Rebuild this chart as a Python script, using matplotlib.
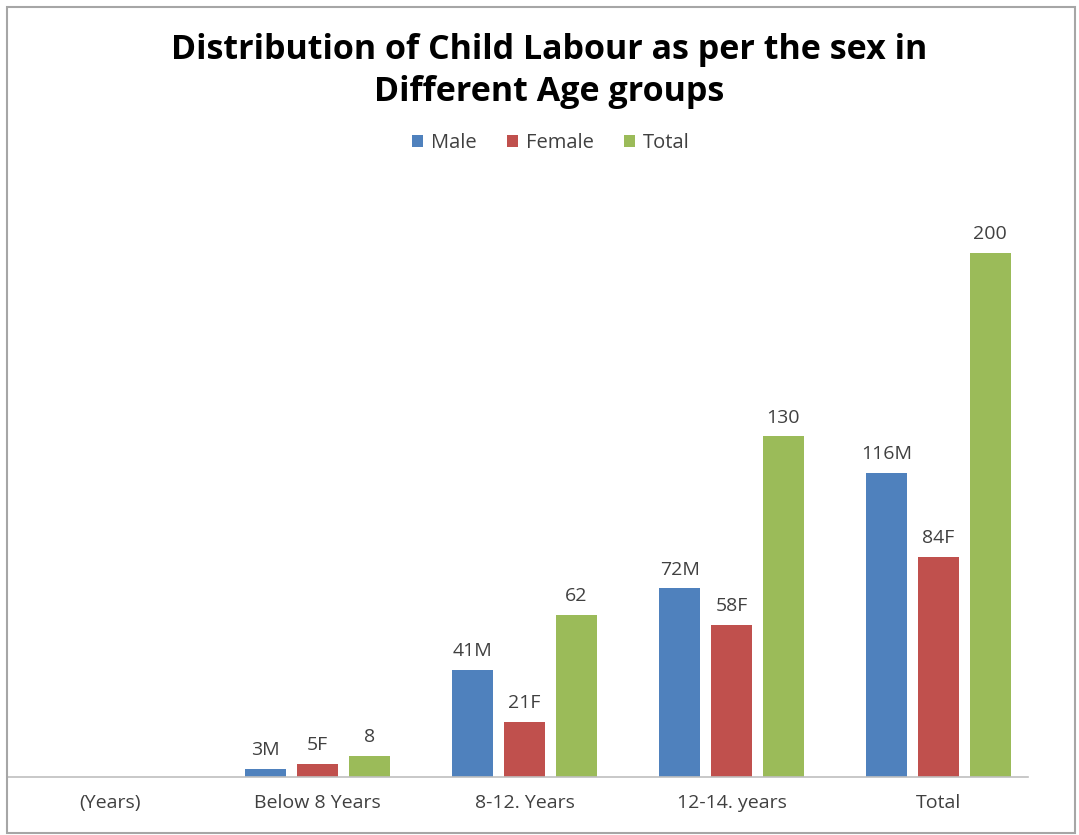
import numpy as np
import matplotlib.pyplot as plt
from matplotlib.patches import Rectangle

# Age groups and counts
categories = ['(Years)', 'Below 8 Years', '8-12. Years', '12-14. years', 'Total']
male = [0, 3, 41, 72, 116]
female = [0, 5, 21, 58, 84]
total = [0, 8, 62, 130, 200]

male_labels = ['', '3M', '41M', '72M', '116M']
female_labels = ['', '5F', '21F', '58F', '84F']
total_labels = ['', '8', '62', '130', '200']

plt.rcParams['font.family'] = ['Open Sans', 'DejaVu Sans']

fig = plt.figure(figsize=(10.79, 8.35), dpi=100)
ax = fig.add_axes([7 / 1079, 58 / 835, 1035 / 1079, 576.4 / 835])

x = np.arange(len(categories))
width = 0.2
step = 0.25

series = [
    (male, male_labels, '#4F81BD', 'Male', -step),
    (female, female_labels, '#C0504D', 'Female', 0),
    (total, total_labels, '#9BBB59', 'Total', step),
]

for values, labels, color, name, offset in series:
    bars = ax.bar(x + offset, values, width, color=color, label=name)
    for bar, lab in zip(bars, labels):
        if lab:
            ax.annotate(lab, (bar.get_x() + bar.get_width() / 2, bar.get_height()),
                        xytext=(0, 7), textcoords='offset points',
                        ha='center', va='bottom', fontsize=14, color='#404040')

ax.set_xlim(-0.5, len(categories) - 0.5)
ax.set_ylim(0, 220)
ax.set_xticks(x)
ax.set_xticklabels(categories, fontsize=14, color='#404040')
ax.tick_params(axis='x', length=0, pad=12)
ax.set_yticks([])
for side in ['top', 'left', 'right']:
    ax.spines[side].set_visible(False)
ax.spines['bottom'].set_color('#BFBFBF')
ax.spines['bottom'].set_linewidth(1.2)
ax.spines['bottom'].set_bounds(-0.5, 4.43)

# Chart title and legend
fig.text(549 / 1079, 1 - 50 / 835, 'Distribution of Child Labour as per the sex in',
         ha='center', va='center', fontsize=24.5, fontweight='bold', color='black')
fig.text(549 / 1079, 1 - 92 / 835, 'Different Age groups',
         ha='center', va='center', fontsize=24.5, fontweight='bold', color='black')
fig.legend(loc='center', bbox_to_anchor=(551 / 1079, 1 - 143 / 835), ncol=3,
           frameon=False, fontsize=14.5, handlelength=0.55, handleheight=0.55,
           handletextpad=0.4, columnspacing=1.5,
           labelcolor='#404040')

# Outer frame
fig.patches.append(Rectangle((7 / 1079, 2 / 835), 1068 / 1079, 826 / 835,
                             transform=fig.transFigure, fill=False,
                             edgecolor='#A6A6A6', linewidth=1.5))

fig.savefig('out.png', dpi=100, facecolor='white')
